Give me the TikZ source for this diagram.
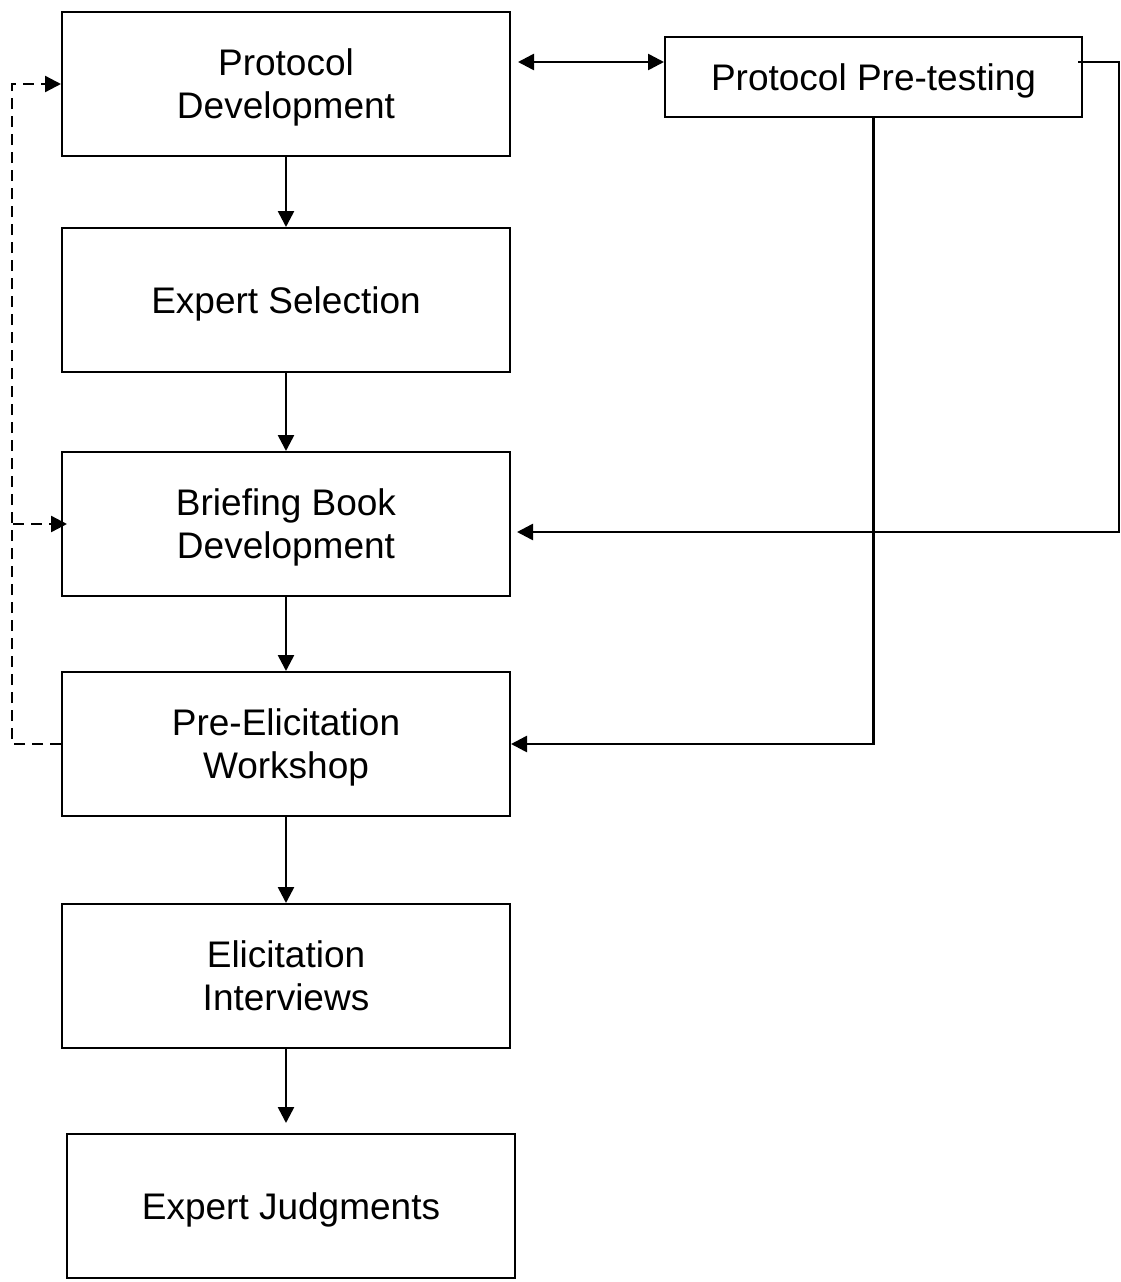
\documentclass[tikz,border=0pt]{standalone}
\usepackage{fontspec}
\setmainfont{Liberation Sans}
\usetikzlibrary{arrows.meta,calc}
\newcommand\boxfont{\fontsize{37}{43}\selectfont}
\begin{document}
\begin{tikzpicture}[x=1pt,y=1pt,
  box/.style={draw, line width=2pt, minimum width=448pt, minimum height=144pt,
    inner sep=0pt, align=center, font=\boxfont, text depth=0pt},
  tip/.tip={Triangle[length=16pt,width=16pt]},
  arr/.style={line width=2.6pt, -tip},
  dbl/.style={line width=2.6pt, tip-tip},
  darr/.style={line width=2.4pt, dash pattern=on 11pt off 7pt, -tip}]
\useasboundingbox (0,0) rectangle (1120,-1282);
\node[box] (pd) at (286,-84) {Protocol\\Development};
\node[box] (es) at (286,-300) {Expert Selection};
\node[box] (bb) at (286,-524) {Briefing Book\\Development};
\node[box] (pe) at (286,-744) {Pre-Elicitation\\Workshop};
\node[box] (ei) at (286,-976) {Elicitation\\Interviews};
\node[box] (ej) at (291,-1206) {Expert Judgments};
\node[box, minimum width=417pt, minimum height=80pt] (pp) at (873.5,-77) {Protocol Pre-testing};
% main flow
\draw[arr] (pd) -- (es);
\draw[arr] (es) -- (bb);
\draw[arr] (bb) -- (pe);
\draw[arr] (pe) -- (ei);
\draw[arr, shorten >=10pt] (ei.south) -- (ei.south |- ej.north);
% pre-testing links
\coordinate (ppw) at ([yshift=15pt]pp.west);
\draw[dbl, shorten <=7pt] (ppw -| pd.east) -- (ppw);
\coordinate (ppe) at ([xshift=-5pt,yshift=15pt]pp.east);
\coordinate (bbe) at ([xshift=6pt,yshift=-8pt]bb.east);
\draw[arr] (ppe) -- ++(41,0) |- (bbe);
\draw[arr] (pp.south) |- (pe.east);
% dashed feedback
\draw[darr] (pe.west) -- ++(-49,0) |- (pd.west);
\coordinate (dl) at (13,-524);
\draw[darr] (dl) -- ([xshift=6pt]bb.west);
\end{tikzpicture}
\end{document}
